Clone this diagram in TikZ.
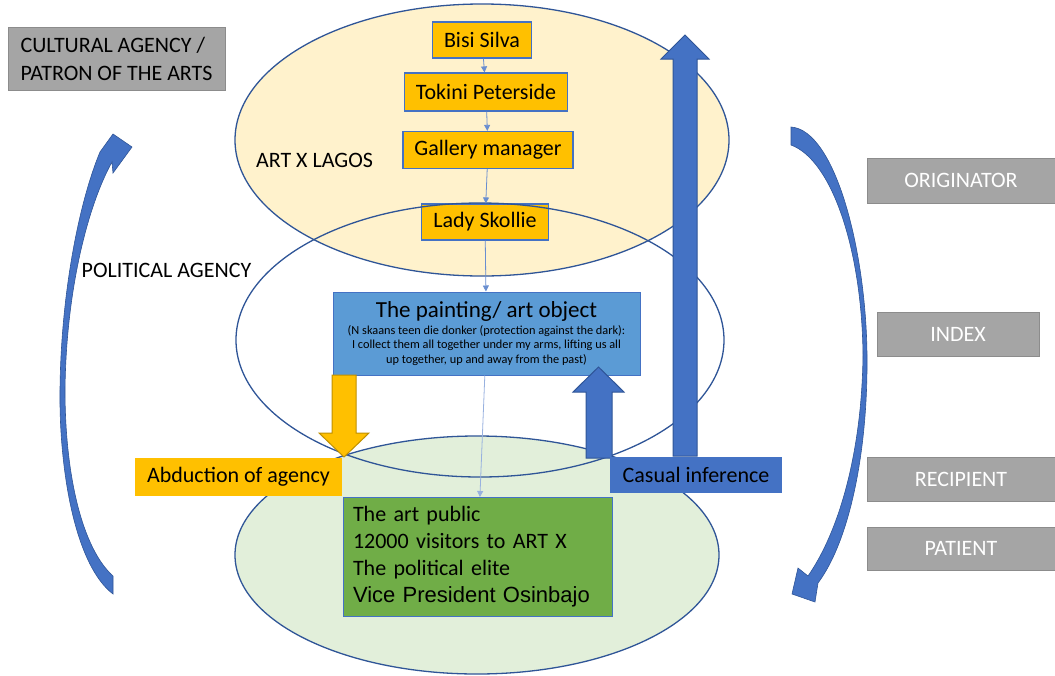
\documentclass[tikz,border=0pt]{standalone}
\usepackage{fontspec}
\setmainfont{Carlito}
\newfontfamily\arialfont{Liberation Sans}
\usetikzlibrary{arrows.meta}

\definecolor{lagosfill}{HTML}{FFF2CC}
\definecolor{publicfill}{HTML}{E2EFDA}
\definecolor{ringline}{HTML}{2F5597}
\definecolor{gold}{HTML}{FFC000}
\definecolor{goldline}{HTML}{BF9000}
\definecolor{paintfill}{HTML}{5B9BD5}
\definecolor{accentblue}{HTML}{4472C4}
\definecolor{publicgreen}{HTML}{70AD47}
\definecolor{greyfill}{HTML}{A5A5A5}
\definecolor{greyline}{HTML}{8C8C8C}

\tikzset{
  bigtext/.style={font=\fontsize{22}{27}\selectfont},
  orgbox/.style={bigtext, draw=accentblue, fill=gold, line width=1.2pt, inner sep=0pt},
  rolebox/.style={bigtext, draw=greyline, fill=greyfill, text=white, line width=1pt, inner sep=0pt},
  link/.style={draw=accentblue!80, line width=0.8pt, -{Triangle[width=6pt,length=6pt]}},
  ring/.style={draw=ringline, line width=1.3pt},
  blockarrow/.style={line width=1pt, line join=miter},
  curvearrow/.style={fill=accentblue, draw=ringline, line width=0.6pt}
}

\begin{document}
\begin{tikzpicture}[x=1pt, y=-1pt]

    \useasboundingbox (0,0) rectangle (1055,675);

    % -- Fondi delle ellissi --
    \fill[lagosfill] (482,140) ellipse [x radius=247, y radius=136];
    \fill[publicfill] (477,555) ellipse [x radius=242, y radius=119];

    % -- Catena ART X LAGOS --
    \node[orgbox, minimum width=99, minimum height=36] (bisi) at (482,40) {Bisi Silva};
    \node[orgbox, minimum width=163, minimum height=38] (tokini) at (486,92) {Tokini Peterside};
    \node[orgbox, minimum width=170, minimum height=37] (gallery) at (488,150) {Gallery manager};
    \node[orgbox, minimum width=127, minimum height=36] (skollie) at (485,222) {Lady Skollie};

    % -- Contorni delle ellissi --
    \draw[ring] (482,140) ellipse [x radius=247, y radius=136];
    \draw[ring] (480,340) ellipse [x radius=244, y radius=137];
    \draw[ring] (477,555) ellipse [x radius=242, y radius=119];

    \node[bigtext] (lagoslabel) at (314.5,160) {ART X LAGOS};
    \node[bigtext] (politicallabel) at (166.5,270) {POLITICAL AGENCY};

    % -- Oggetto d'arte e pubblico --
    \node[draw=accentblue, fill=paintfill, line width=1pt, minimum width=307, minimum height=83,
          inner sep=0pt, align=center, font=\fontsize{12.3}{14.5}\selectfont] (painting) at (486.5,333.5)
        {{\fontsize{23}{26}\selectfont The painting/ art object}\\[2pt]
         (N skaans teen die donker (protection against the dark):\\
         I collect them all together under my arms, lifting us all\\
         up together, up and away from the past)};

    \node[bigtext, draw=accentblue, fill=publicgreen, line width=1pt, minimum height=119,
          inner xsep=10pt, inner ysep=0pt, text width=249, align=left] (public) at (477.5,557)
        {The art public\\
         12000 visitors to ART X\\
         The political elite\\
         {\arialfont Vice President Osinbajo}};

    \draw[link] (bisi) -- (tokini);
    \draw[link] (tokini) -- (gallery);
    \draw[link] (gallery) -- (skollie);
    \draw[link] (skollie) -- (painting);
    \draw[link, draw=accentblue!55] (painting) -- (public);

    % -- Frecce a blocco --
    \draw[blockarrow, draw=goldline, fill=gold] (332,375) -- (332,433) -- (319,433) -- (344,457)
        -- (369,433) -- (356,433) -- (356,375) -- cycle;
    \draw[blockarrow, draw=ringline, fill=accentblue] (586,458) -- (586,392) -- (573,392) -- (598.5,367)
        -- (624,392) -- (612,392) -- (612,458) -- cycle;
    \draw[blockarrow, draw=ringline, fill=accentblue] (673,456) -- (673,59) -- (661,59) -- (685,35)
        -- (709,59) -- (697,59) -- (697,456) -- cycle;

    \node[bigtext, fill=gold, minimum width=207, minimum height=38, inner sep=0pt] (abduction)
        at (238.5,477) {Abduction of agency};
    \node[bigtext, fill=accentblue, minimum width=172, minimum height=36, inner sep=0pt] (inference)
        at (696,474.5) {Casual inference};

    % -- Ruoli --
    \node[rolebox, text=black, minimum width=217, minimum height=63, align=left,
          font=\fontsize{22}{28}\selectfont] (cultural) at (116.5,58.5)
        {CULTURAL AGENCY /\\PATRON OF THE ARTS};
    \node[rolebox, minimum width=188, minimum height=45] (originator) at (961,180.5) {ORIGINATOR};
    \node[rolebox, minimum width=162, minimum height=44] (index) at (958,334) {INDEX};
    \node[rolebox, minimum width=188, minimum height=44] (recipient) at (961,479) {RECIPIENT};
    \node[rolebox, minimum width=188, minimum height=43] (patient) at (961,548.5) {PATIENT};

    % -- Frecce curve laterali --
    \draw[curvearrow] (113,594) .. controls (75,565) and (59,470) .. (60,390)
        .. controls (61,290) and (80,200) .. (100,152) -- (113,134) -- (132,147) -- (113,173)
        -- (112,162) .. controls (88,205) and (66,290) .. (65,390)
        .. controls (65,475) and (82,548) .. (113,576) -- cycle;

    \draw[curvearrow] (791,127) .. controls (835,130) and (866,250) .. (867,355)
        .. controls (868,450) and (850,540) .. (818,583) -- (815,602) -- (792,594) -- (798,568)
        -- (808,576) .. controls (840,530) and (862,450) .. (863,355)
        .. controls (862,250) and (832,160) .. (791,145) -- cycle;

\end{tikzpicture}
\end{document}
